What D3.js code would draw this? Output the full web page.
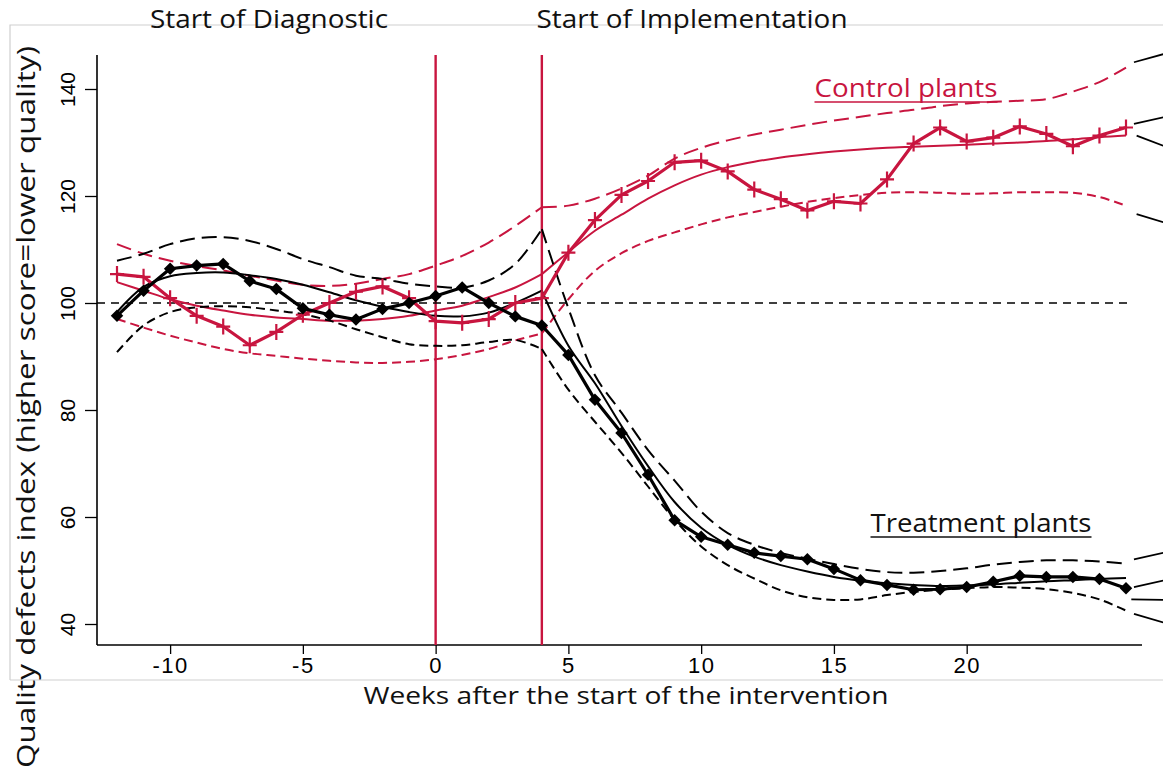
<!DOCTYPE html>
<html>
<head>
<meta charset="utf-8">
<script src="https://cdn.jsdelivr.net/npm/d3@7"></script>
<style>
  html, body { margin: 0; padding: 0; background: #fff; }
  svg { display: block; }
</style>
</head>
<body>
<svg id="chart" width="1163" height="771"></svg>
<script>
// ---------------- DATA ----------------
const weeks = [-12,-11,-10,-9,-8,-7,-6,-5,-4,-3,-2,-1,0,1,2,3,4,5,6,7,8,9,10,11,12,13,14,15,16,17,18,19,20,21,22,23,24,25,26];
const weeksPre = [-12,-11,-10,-9,-8,-7,-6,-5,-4,-3,-2,-1,0,1,2,3,4];
const weeksPost = [4,5,6,7,8,9,10,11,12,13,14,15,16,17,18,19,20,21,22,23,24,25,26];

// observed weekly index
const treatmentObs = [97.6,102.3,106.4,107.0,107.3,104.1,102.6,99.0,97.8,96.9,98.9,100.0,101.3,102.9,100.0,97.5,95.8,90.3,81.9,75.7,67.9,59.4,56.3,54.8,53.3,52.7,52.1,50.3,48.2,47.3,46.4,46.5,46.9,47.9,49.0,48.8,48.8,48.4,46.7];
const controlObs = [105.4,104.9,100.9,97.6,95.6,92.1,94.6,97.8,100.0,102.1,103.1,100.9,96.6,96.3,97.0,100.0,100.9,109.4,115.5,120.2,122.8,126.3,126.6,124.6,121.2,119.4,117.3,119.0,118.6,123.1,129.8,132.8,130.2,130.9,133.0,131.6,129.3,131.3,132.8];

// fitted curves and confidence bands (pre / post start of implementation)
const tFitPre  = [98.3,103.0,105.0,105.6,105.7,105.2,104.5,103.4,102.0,100.5,99.3,98.3,97.6,97.5,98.2,100.0,102.3];
const tFitPost = [102.3,92.0,85.0,77.0,69.5,62.8,58.0,54.8,52.6,51.0,49.8,48.8,48.1,47.6,47.3,47.1,47.2,47.4,47.7,48.0,48.2,48.4,48.6];
const tUpPre   = [107.9,109.2,111.0,112.1,112.3,111.6,110.1,108.2,106.7,105.1,104.5,103.6,103.1,102.9,104.2,107.3,113.8];
const tUpPost  = [113.8,99.0,86.5,79.5,72.5,66.8,61.0,57.0,54.8,53.3,52.2,51.2,50.3,49.7,49.6,49.9,50.4,51.1,51.6,51.9,51.9,51.7,51.3];
const tLoPre   = [90.8,95.8,98.3,99.2,99.4,99.2,98.6,97.9,96.7,95.1,93.6,92.3,92.0,92.1,92.7,93.1,91.4];
const tLoPost  = [91.4,83.8,77.8,72.0,65.7,59.5,54.5,51.0,48.5,46.3,45.0,44.5,44.6,45.4,46.0,46.4,46.7,46.9,46.8,46.5,45.8,44.6,42.5];

const cFitPre  = [103.9,102.3,100.7,99.5,98.6,97.8,97.3,97.0,96.7,96.7,97.0,97.6,98.6,99.5,101.1,102.9,105.4];
const cFitPost = [105.4,109.5,113.5,116.5,119.5,122.0,124.0,125.4,126.4,127.2,127.8,128.3,128.7,129.0,129.2,129.4,129.6,129.8,130.0,130.3,130.6,131.0,131.3];
const cUpPre   = [111.0,109.2,107.9,106.9,106.1,105.1,104.2,103.4,103.2,103.6,104.5,105.4,107.0,108.8,111.3,114.4,117.9];
const cUpPost  = [117.9,118.2,119.5,121.4,123.8,127.0,129.0,130.4,131.5,132.4,133.3,134.1,134.8,135.5,136.1,136.8,137.3,137.6,137.8,138.1,139.5,141.3,144.0];
const cLoPre   = [97.0,95.4,93.9,92.6,91.4,90.6,90.1,89.6,89.2,88.9,88.8,89.0,89.5,90.3,91.4,93.0,94.3];
const cLoPost  = [94.3,100.7,106.0,109.3,111.6,113.2,114.7,116.0,117.0,118.0,118.9,119.6,120.2,120.6,120.7,120.6,120.4,120.5,120.7,120.7,120.6,119.8,118.2];

// cut-off line pieces visible at the right edge [week0, value0, week1, value1]
const edgeStubs = [
  [26.3,145.0,27.4,146.5],[26.3,133.5,27.4,134.7],[26.4,131.3,27.4,129.4],[26.4,116.6,27.4,115.1],
  [26.3,52.1,27.4,53.3],[26.3,46.9,27.4,48.1],[26.2,44.6,27.4,44.5],[26.3,41.9,27.4,40.3]
];

const xTicks = [-10,-5,0,5,10,15,20];
const yTicks = [40,60,80,100,120,140];
const eventWeeks = [0,4];
const eventLabels = ["Start of Diagnostic","Start of Implementation"];
const referenceValue = 100;

// ---------------- CHART ----------------
const RED = "#c8153f";
const svg = d3.select("#chart");

const x = d3.scaleLinear().domain([-12, 26]).range([117, 1126]);
const y = d3.scaleLinear().domain([40, 140]).range([624, 89]);

// light frame
const frame = svg.append("g").attr("stroke", "#cfcfcf").attr("stroke-width", 1.2).attr("fill", "none");
frame.append("path").attr("d", "M10,680 L10,25 L1163,25");
frame.append("path").attr("d", "M10,680 L1163,680");

// axes lines
const axisLeftX = 97, axisBottomY = 645, axisTopY = 55, axisRightX = 1142;
svg.append("line").attr("x1", axisLeftX).attr("x2", axisLeftX).attr("y1", axisTopY).attr("y2", axisBottomY)
  .attr("stroke", "#000").attr("stroke-width", 1.6);
svg.append("line").attr("x1", axisLeftX).attr("x2", axisRightX).attr("y1", axisBottomY).attr("y2", axisBottomY)
  .attr("stroke", "#000").attr("stroke-width", 1.6);

// y axis ticks
const yAxis = svg.append("g").attr("transform", `translate(${axisLeftX},0)`)
  .call(d3.axisLeft(y).tickValues(yTicks).tickSize(12).tickPadding(0).tickFormat(d => String(d)));
yAxis.select(".domain").remove();
yAxis.selectAll(".tick line").attr("stroke", "#000").attr("stroke-width", 1.3);
yAxis.selectAll(".tick text")
  .attr("font-family", "'Liberation Sans', Arial, sans-serif").attr("font-size", 21).attr("fill", "#000")
  .attr("text-anchor", "middle").attr("x", 0).attr("dy", 0)
  .attr("transform", "translate(-28,0) rotate(-90)")
  .attr("dominant-baseline", "middle");

// x axis ticks
const xAxis = svg.append("g").attr("transform", `translate(0,${axisBottomY})`)
  .call(d3.axisBottom(x).tickValues(xTicks).tickSize(9).tickPadding(0).tickFormat(d => String(d)));
xAxis.select(".domain").remove();
xAxis.selectAll(".tick line").attr("stroke", "#000").attr("stroke-width", 1.3);
xAxis.selectAll(".tick text")
  .attr("font-family", "'Liberation Sans', Arial, sans-serif").attr("font-size", 22).attr("fill", "#000")
  .attr("letter-spacing", 1.5).attr("y", 28).attr("dy", 0);

// axis titles
svg.append("text").attr("x", 626).attr("y", 704).attr("text-anchor", "middle")
  .attr("font-family", "'Open Sans', sans-serif").attr("font-size", 23).attr("fill", "#111")
  .attr("textLength", 525).attr("lengthAdjust", "spacingAndGlyphs")
  .text("Weeks after the start of the intervention");
svg.append("text").attr("transform", "translate(35,407) rotate(-90)").attr("text-anchor", "middle")
  .attr("font-family", "'Open Sans', sans-serif").attr("font-size", 25).attr("fill", "#111")
  .attr("textLength", 722).attr("lengthAdjust", "spacingAndGlyphs")
  .text("Quality defects index (higher score=lower quality)");

// event lines
svg.selectAll(".event").data(eventWeeks).join("line")
  .attr("x1", d => x(d)).attr("x2", d => x(d)).attr("y1", axisTopY).attr("y2", axisBottomY)
  .attr("stroke", RED).attr("stroke-width", 2.4);

// event labels
const evLabelX = [269, 692], evLabelW = [238, 311];
svg.selectAll(".evlab").data(eventLabels).join("text")
  .attr("x", (d, i) => evLabelX[i]).attr("y", 28).attr("text-anchor", "middle")
  .attr("font-family", "'Open Sans', sans-serif").attr("font-size", 26).attr("fill", "#111")
  .attr("textLength", (d, i) => evLabelW[i]).attr("lengthAdjust", "spacingAndGlyphs")
  .text(d => d);

// reference line at 100
svg.append("line").attr("x1", axisLeftX).attr("x2", 1130)
  .attr("y1", y(referenceValue)).attr("y2", y(referenceValue))
  .attr("stroke", "#000").attr("stroke-width", 1.5).attr("stroke-dasharray", "8,6");

// smooth curves
const smooth = d3.line().x(d => x(d[0])).y(d => y(d[1])).curve(d3.curveCatmullRom.alpha(0.5));
function curve(ws, vs, color, width, dash) {
  svg.append("path").datum(ws.map((w, i) => [w, vs[i]]))
    .attr("d", smooth).attr("fill", "none").attr("stroke", color)
    .attr("stroke-width", width).attr("stroke-dasharray", dash || null);
}
const longDash = "15,7", shortDash = "9,5";
// control
curve(weeksPre, cUpPre, RED, 2, longDash);
curve(weeksPost, cUpPost, RED, 2, longDash);
curve(weeksPre, cLoPre, RED, 2, shortDash);
curve(weeksPost, cLoPost, RED, 2, shortDash);
curve(weeksPre, cFitPre, RED, 2);
curve(weeksPost, cFitPost, RED, 2);
// treatment
curve(weeksPre, tUpPre, "#000", 2, longDash);
curve(weeksPost, tUpPost, "#000", 2, longDash);
curve(weeksPre, tLoPre, "#000", 2, shortDash);
curve(weeksPost, tLoPost, "#000", 2, shortDash);
curve(weeksPre, tFitPre, "#000", 2);
curve(weeksPost, tFitPost, "#000", 2);

// observed lines
const straight = d3.line().x((d, i) => x(weeks[i])).y(d => y(d));
svg.append("path").datum(controlObs).attr("d", straight).attr("fill", "none")
  .attr("stroke", RED).attr("stroke-width", 3.2).attr("stroke-linejoin", "round");
svg.append("path").datum(treatmentObs).attr("d", straight).attr("fill", "none")
  .attr("stroke", "#000").attr("stroke-width", 3.2).attr("stroke-linejoin", "round");

// markers
svg.selectAll(".cross").data(controlObs).join("path")
  .attr("transform", (d, i) => `translate(${x(weeks[i])},${y(d)})`)
  .attr("d", "M-7,0H7M0,-8V8").attr("stroke", RED).attr("stroke-width", 2.2).attr("fill", "none");
svg.selectAll(".diamond").data(treatmentObs).join("path")
  .attr("transform", (d, i) => `translate(${x(weeks[i])},${y(d)}) rotate(45)`)
  .attr("d", d3.symbol(d3.symbolSquare, 78)).attr("fill", "#000");

// edge stubs
svg.selectAll(".stub").data(edgeStubs).join("line")
  .attr("x1", d => x(d[0])).attr("y1", d => y(d[1])).attr("x2", d => x(d[2])).attr("y2", d => y(d[3]))
  .attr("stroke", "#000").attr("stroke-width", 1.8);

// group labels
function underlinedLabel(txt, cx, base, w, color) {
  svg.append("text").attr("x", cx).attr("y", base).attr("text-anchor", "middle")
    .attr("font-family", "'Open Sans', sans-serif").attr("font-size", 25).attr("fill", color)
    .attr("textLength", w).attr("lengthAdjust", "spacingAndGlyphs").text(txt);
  svg.append("line").attr("x1", cx - w / 2).attr("x2", cx + w / 2).attr("y1", base + 5).attr("y2", base + 5)
    .attr("stroke", color).attr("stroke-width", 1.6);
}
underlinedLabel("Control plants", 906, 97, 183, RED);
underlinedLabel("Treatment plants", 981, 532, 221, "#111");
</script>
</body>
</html>
